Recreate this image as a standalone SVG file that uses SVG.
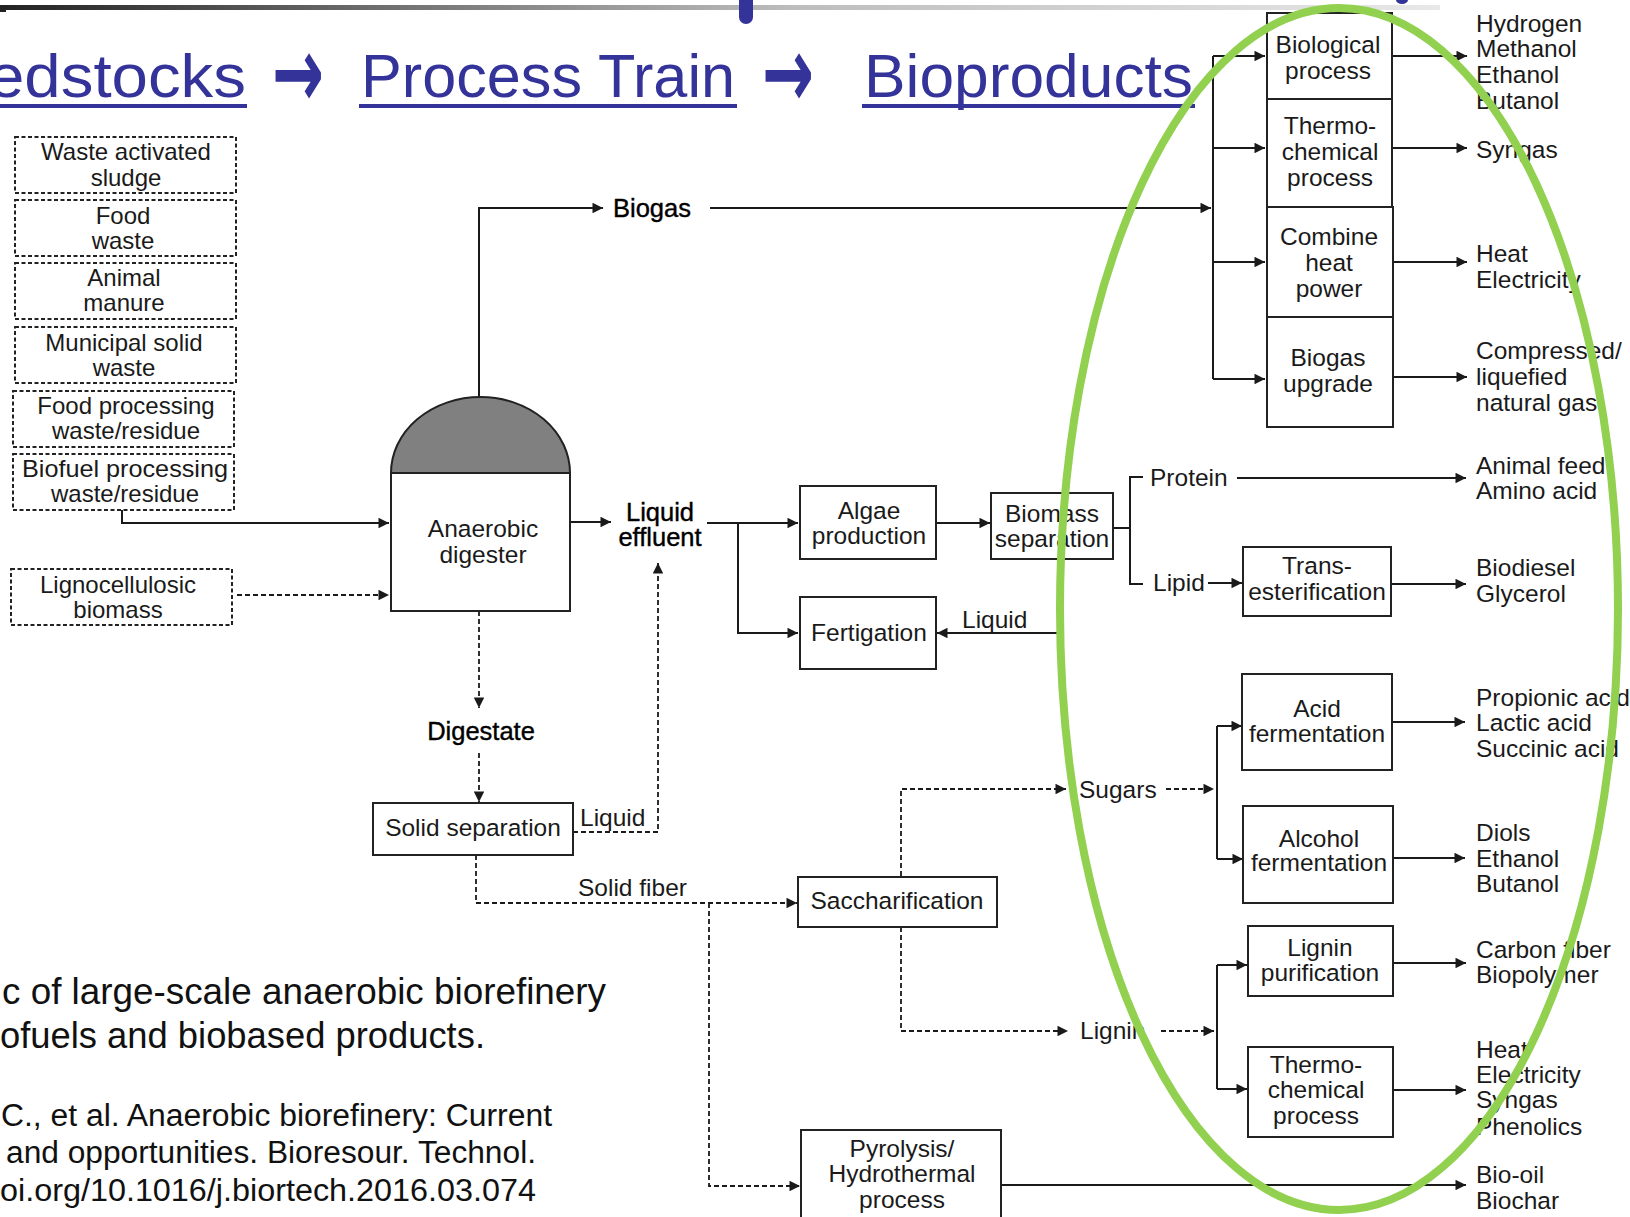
<svg xmlns="http://www.w3.org/2000/svg" width="1630" height="1217" viewBox="0 0 1630 1217">
<defs>
<linearGradient id="bar" x1="0" y1="0" x2="1" y2="0">
<stop offset="0" stop-color="#222"/>
<stop offset="0.25" stop-color="#6a6a6a"/>
<stop offset="0.55" stop-color="#bdbdbd"/>
<stop offset="1" stop-color="#e8e8e8"/>
</linearGradient>
<marker id="ah" viewBox="0 0 10 10" refX="10" refY="5" markerWidth="12" markerHeight="10.5" markerUnits="userSpaceOnUse" orient="auto">
<path d="M0,0 L10,5 L0,10 z" fill="#1a1a1a"/>
</marker>
<style>
.t{font-family:"Liberation Sans",Arial,Helvetica,sans-serif;font-size:24.5px;fill:#1a1a1a}
.c{text-anchor:middle}
.ft{font-size:24px}
.lb{font-size:25.5px;fill:#000;stroke:#000;stroke-width:0.4}
.box{fill:#fff;stroke:#222;stroke-width:2}
.dbox{fill:#fff;stroke:#222;stroke-width:2;stroke-dasharray:4 2.5}
.ln{fill:none;stroke:#1a1a1a;stroke-width:2}
.ar{marker-end:url(#ah)}
.dl{fill:none;stroke:#1a1a1a;stroke-width:1.8;stroke-dasharray:5 3}
.title{font-family:"Liberation Sans",Arial,sans-serif;font-size:62px;fill:#333399}
.arw{font-family:"DejaVu Sans",sans-serif;font-weight:bold;font-size:100px;fill:#333399}
.cap{font-family:"Liberation Sans",Arial,sans-serif;fill:#111}
</style>
</defs>
<rect width="1630" height="1217" fill="#fff"/>

<g id="header">
<rect x="0" y="5" width="1440" height="5" fill="url(#bar)"/>
<rect x="0" y="5" width="6" height="7" fill="#222"/>
<path d="M739,0 V17 A7,7 0 0 0 753,17 V0 Z" fill="#333399"/>
<ellipse cx="1402" cy="0" rx="6" ry="4" fill="#333399"/>
<text class="title" x="-12" y="97" textLength="258" lengthAdjust="spacingAndGlyphs">edstocks</text>
<rect x="0" y="104" width="247" height="4" fill="#333399"/>
<text class="arw" x="272" y="107" textLength="52" lengthAdjust="spacingAndGlyphs">→</text>
<text class="title" x="361" y="97" textLength="374" lengthAdjust="spacingAndGlyphs">Process Train</text>
<rect x="359" y="104" width="378" height="4" fill="#333399"/>
<text class="arw" x="762" y="107" textLength="52" lengthAdjust="spacingAndGlyphs">→</text>
<text class="title" x="864" y="97" textLength="329" lengthAdjust="spacingAndGlyphs">Bioproducts</text>
<rect x="862" y="104" width="333" height="4" fill="#333399"/>
</g>

<g id="connectors">
<path class="ln ar" d="M122,510 V523 H389"/>
<path class="dl ar" d="M237,595 H389"/>
<path class="ln ar" d="M479,397 V208 H603"/>
<path class="ln ar" d="M710,208 H1211"/>
<path class="ln" d="M1213,56 V379"/>
<path class="ln ar" d="M1213,56 H1265"/>
<path class="ln ar" d="M1213,148 H1265"/>
<path class="ln ar" d="M1213,262 H1265"/>
<path class="ln ar" d="M1213,379 H1265"/>
<path class="ln ar" d="M1392,56 H1467"/>
<path class="ln ar" d="M1392,148 H1467"/>
<path class="ln ar" d="M1393,262 H1467"/>
<path class="ln ar" d="M1393,377 H1467"/>
<path class="ln ar" d="M570,522 H611"/>
<path class="ln ar" d="M707,523 H798"/>
<path class="ln ar" d="M738,523 V633 H798"/>
<path class="ln ar" d="M936,523 H990"/>
<path class="ln" d="M1113,528 H1130"/>
<path class="ln" d="M1143,477 H1130 V584 H1143"/>
<path class="ln ar" d="M1237,478 H1466"/>
<path class="ln ar" d="M1208,583 H1242"/>
<path class="ln ar" d="M1391,584 H1466"/>
<path class="ln ar" d="M1060,633 H937"/>
<path class="dl ar" d="M479,611 V708"/>
<path class="dl ar" d="M479,753 V802"/>
<path class="dl ar" d="M573,832 H658 V563"/>
<path class="dl ar" d="M476,855 V903 H797"/>
<path class="dl ar" d="M709,903 V1186 H800"/>
<path class="dl ar" d="M901,876 V789 H1066"/>
<path class="dl ar" d="M1166,789 H1214"/>
<path class="dl ar" d="M901,927 V1031 H1068"/>
<path class="dl ar" d="M1161,1031 H1214"/>
<path class="ln" d="M1217,726 V859"/>
<path class="ln ar" d="M1217,726 H1242"/>
<path class="ln ar" d="M1217,859 H1243"/>
<path class="ln ar" d="M1392,722 H1465"/>
<path class="ln ar" d="M1393,858 H1465"/>
<path class="ln" d="M1217,965 V1089"/>
<path class="ln ar" d="M1217,965 H1247"/>
<path class="ln ar" d="M1217,1089 H1247"/>
<path class="ln ar" d="M1393,963 H1466"/>
<path class="ln ar" d="M1393,1090 H1466"/>
<path class="ln ar" d="M1001,1185 H1466"/>
</g>

<g id="feed-was"><rect class="dbox" x="15" y="137" width="221" height="56"/><text class="t c ft" x="126" y="160">Waste activated</text><text class="t c ft" x="126" y="186">sludge</text></g>
<g id="feed-food"><rect class="dbox" x="15" y="200" width="221" height="56"/><text class="t c ft" x="123" y="224">Food</text><text class="t c ft" x="123" y="248.5">waste</text></g>
<g id="feed-manure"><rect class="dbox" x="15" y="263" width="221" height="56"/><text class="t c ft" x="124" y="286">Animal</text><text class="t c ft" x="124" y="311">manure</text></g>
<g id="feed-msw"><rect class="dbox" x="15" y="327" width="221" height="56"/><text class="t c ft" x="124" y="350.5">Municipal solid</text><text class="t c ft" x="124" y="375.5">waste</text></g>
<g id="feed-foodproc"><rect class="dbox" x="13" y="391" width="221" height="56"/><text class="t c ft" x="126" y="414">Food processing</text><text class="t c ft" x="126" y="439">waste/residue</text></g>
<g id="feed-biofuel"><rect class="dbox" x="13" y="454" width="221" height="56"/><text class="t c ft" x="125" y="477" textLength="206" lengthAdjust="spacingAndGlyphs">Biofuel processing</text><text class="t c ft" x="125" y="502">waste/residue</text></g>
<g id="feed-ligno"><rect class="dbox" x="11" y="569" width="221" height="56"/><text class="t c ft" x="118" y="593">Lignocellulosic</text><text class="t c ft" x="118" y="617.5">biomass</text></g>

<g id="digester">
<path d="M391,473 A89.5,76 0 0 1 570,473 Z" fill="#808080" stroke="#222" stroke-width="2"/>
<rect class="box" x="391" y="473" width="179" height="138"/>
<text class="t c" x="483" y="536.5">Anaerobic</text><text class="t c" x="483" y="562.5">digester</text>
</g>
<g id="biogas"><text class="t lb" x="613" y="216.5">Biogas</text></g>
<g id="liquid-effluent"><text class="t c lb" x="660" y="521">Liquid</text><text class="t c lb" x="660" y="546">effluent</text></g>
<g id="digestate"><text class="t c lb" x="481" y="739.5">Digestate</text></g>
<g id="solid-separation"><rect class="box" x="373" y="803" width="200" height="52"/><text class="t c" x="473" y="836">Solid separation</text></g>
<g id="lbl-liquid1"><text class="t" x="580" y="825.5">Liquid</text></g>
<g id="lbl-solidfiber"><text class="t" x="578" y="896">Solid fiber</text></g>
<g id="saccharification"><rect class="box" x="798" y="877" width="199" height="50"/><text class="t c" x="897" y="909">Saccharification</text></g>
<g id="pyrolysis"><rect class="box" x="801" y="1130" width="200" height="90"/><text class="t c" x="902" y="1157">Pyrolysis/</text><text class="t c" x="902" y="1182">Hydrothermal</text><text class="t c" x="902" y="1208">process</text></g>
<g id="algae"><rect class="box" x="800" y="486" width="136" height="73"/><text class="t c" x="869" y="519">Algae</text><text class="t c" x="869" y="544">production</text></g>
<g id="fertigation"><rect class="box" x="800" y="597" width="136" height="72"/><text class="t c" x="869" y="641">Fertigation</text></g>
<g id="lbl-liquid2"><text class="t" x="962" y="628">Liquid</text></g>
<g id="biomass-sep"><rect class="box" x="991" y="493" width="122" height="66"/><text class="t c" x="1052" y="522">Biomass</text><text class="t c" x="1052" y="547">separation</text></g>
<g id="lbl-protein"><text class="t" x="1150" y="486">Protein</text></g>
<g id="lbl-lipid"><text class="t" x="1153" y="591">Lipid</text></g>
<g id="transesterification"><rect class="box" x="1243" y="547" width="148" height="69"/><text class="t c" x="1317" y="574">Trans-</text><text class="t c" x="1317" y="600">esterification</text></g>
<g id="lbl-sugars"><text class="t" x="1079" y="797.5">Sugars</text></g>
<g id="lbl-lignin"><text class="t" x="1080" y="1039">Lignin</text></g>
<g id="acid-ferm"><rect class="box" x="1242" y="674" width="150" height="96"/><text class="t c" x="1317" y="716.5">Acid</text><text class="t c" x="1317" y="741.5">fermentation</text></g>
<g id="alcohol-ferm"><rect class="box" x="1243" y="806" width="150" height="97"/><text class="t c" x="1319" y="846.5">Alcohol</text><text class="t c" x="1319" y="870.5">fermentation</text></g>
<g id="lignin-pur"><rect class="box" x="1248" y="926" width="145" height="70"/><text class="t c" x="1320" y="955.5">Lignin</text><text class="t c" x="1320" y="980.5">purification</text></g>
<g id="thermo2"><rect class="box" x="1248" y="1047" width="145" height="90"/><text class="t c" x="1316" y="1073">Thermo-</text><text class="t c" x="1316" y="1098">chemical</text><text class="t c" x="1316" y="1124">process</text></g>
<g id="biological"><rect class="box" x="1267" y="13" width="125" height="86"/><text class="t c" x="1328" y="53">Biological</text><text class="t c" x="1328" y="79">process</text></g>
<g id="thermo1"><rect class="box" x="1267" y="99" width="125" height="108"/><text class="t c" x="1330" y="134">Thermo-</text><text class="t c" x="1330" y="160">chemical</text><text class="t c" x="1330" y="186">process</text></g>
<g id="chp"><rect class="box" x="1267" y="207" width="126" height="110"/><text class="t c" x="1329" y="244.5">Combine</text><text class="t c" x="1329" y="270.5">heat</text><text class="t c" x="1329" y="296.5">power</text></g>
<g id="upgrade"><rect class="box" x="1267" y="317" width="126" height="110"/><text class="t c" x="1328" y="366">Biogas</text><text class="t c" x="1328" y="392">upgrade</text></g>

<g id="products">
<text class="t" x="1476" y="31.5">Hydrogen</text><text class="t" x="1476" y="56.5">Methanol</text><text class="t" x="1476" y="82.5">Ethanol</text><text class="t" x="1476" y="109">Butanol</text>
<text class="t" x="1476" y="158">Syngas</text>
<text class="t" x="1476" y="262">Heat</text><text class="t" x="1476" y="288">Electricity</text>
<text class="t" x="1476" y="359">Compressed/</text><text class="t" x="1476" y="385">liquefied</text><text class="t" x="1476" y="411">natural gas</text>
<text class="t" x="1476" y="474">Animal feed</text><text class="t" x="1476" y="499">Amino acid</text>
<text class="t" x="1476" y="576">Biodiesel</text><text class="t" x="1476" y="602">Glycerol</text>
<text class="t" x="1476" y="706">Propionic acid</text><text class="t" x="1476" y="731">Lactic acid</text><text class="t" x="1476" y="757">Succinic acid</text>
<text class="t" x="1476" y="841">Diols</text><text class="t" x="1476" y="867">Ethanol</text><text class="t" x="1476" y="892">Butanol</text>
<text class="t" x="1476" y="958">Carbon fiber</text><text class="t" x="1476" y="983">Biopolymer</text>
<text class="t" x="1476" y="1058">Heat</text><text class="t" x="1476" y="1083">Electricity</text><text class="t" x="1476" y="1108">Syngas</text><text class="t" x="1476" y="1135">Phenolics</text>
<text class="t" x="1476" y="1183">Bio-oil</text><text class="t" x="1476" y="1209">Biochar</text>
</g>

<g id="caption">
<text class="cap" x="2" y="1004" font-size="36" textLength="604" lengthAdjust="spacingAndGlyphs">c of large-scale anaerobic biorefinery</text>
<text class="cap" x="0" y="1048" font-size="36" textLength="485" lengthAdjust="spacingAndGlyphs">ofuels and biobased products.</text>
<text class="cap" x="1" y="1126" font-size="31" textLength="551" lengthAdjust="spacingAndGlyphs">C., et al. Anaerobic biorefinery: Current</text>
<text class="cap" x="6" y="1163" font-size="31" textLength="530" lengthAdjust="spacingAndGlyphs">and opportunities. Bioresour. Technol.</text>
<text class="cap" x="0" y="1201" font-size="31" textLength="536" lengthAdjust="spacingAndGlyphs">oi.org/10.1016/j.biortech.2016.03.074</text>
</g>

<g id="highlight">
<ellipse cx="1339" cy="609" rx="279" ry="601" fill="none" stroke="#92d050" stroke-width="8"/>
</g>
</svg>
